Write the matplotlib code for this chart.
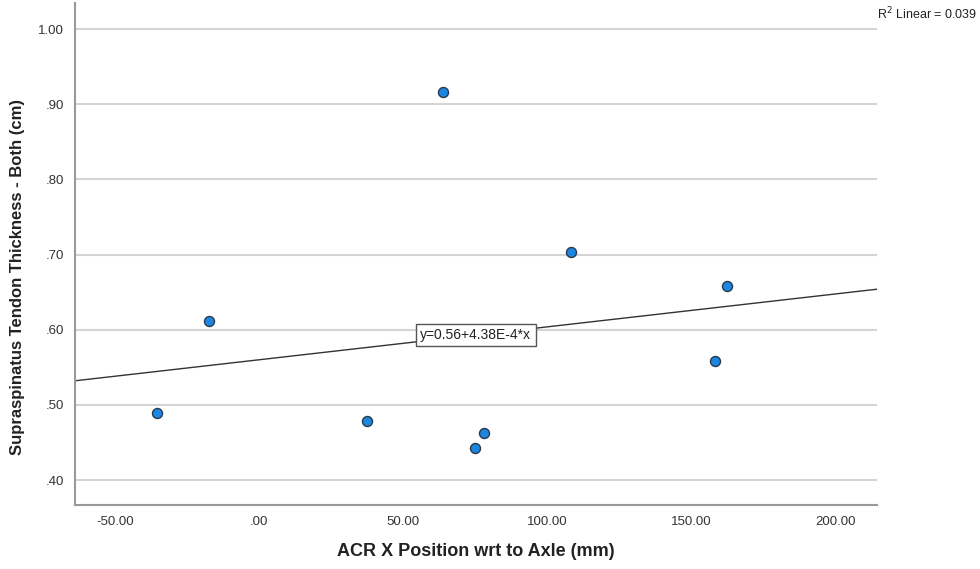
import matplotlib.pyplot as plt
from matplotlib.ticker import FuncFormatter

plt.rcParams['font.family'] = ['Liberation Sans', 'DejaVu Sans']

# Data
acr_x = [-35.6, -17.5, 37.4, 74.8, 78.0, 63.8, 108.0, 162.2, 158.0]
thickness = [0.489, 0.611, 0.479, 0.443, 0.463, 0.916, 0.703, 0.658, 0.559]
intercept = 0.56
slope = 4.38e-4
r2 = 0.039

x_ticks = [-50, 0, 50, 100, 150, 200]
y_ticks = [0.4, 0.5, 0.6, 0.7, 0.8, 0.9, 1.0]
x_lim = (-63.9, 214.2)
y_lim = (0.3668, 1.0346)


def spss_fmt(v, _):
    s = f"{v:.2f}"
    if s.startswith("0."):
        s = s[1:]
    elif s.startswith("-0."):
        s = "-" + s[2:]
    return s


fig = plt.figure(figsize=(9.8, 5.69), dpi=100)
ax = fig.add_axes([0.0765, 0.1125, 0.8181, 0.8822])

ax.set_xlim(*x_lim)
ax.set_ylim(*y_lim)
ax.set_xticks(x_ticks)
ax.set_yticks(y_ticks)
ax.xaxis.set_major_formatter(FuncFormatter(spss_fmt))
ax.yaxis.set_major_formatter(FuncFormatter(spss_fmt))
ax.tick_params(length=0, labelsize=9.5, labelcolor='#333333')
ax.tick_params(axis='x', pad=8)
ax.tick_params(axis='y', pad=8)

ax.grid(axis='y', color='#d4d4d4', linewidth=1.5)
ax.set_axisbelow(True)
for side in ['top', 'right']:
    ax.spines[side].set_visible(False)
for side in ['left', 'bottom']:
    ax.spines[side].set_color('#999999')
    ax.spines[side].set_linewidth(1.5)

# Fit line
line_x = list(x_lim)
line_y = [intercept + slope * v for v in line_x]
ax.plot(line_x, line_y, color='#333333', linewidth=1, zorder=2)

ax.scatter(acr_x, thickness, s=52, color='#1c86e0', edgecolors='#2a3a4a',
           linewidths=1, zorder=3)

mid_x = (x_lim[0] + x_lim[1]) / 2
ax.text(mid_x, intercept + slope * mid_x, "y=0.56+4.38E-4*x", ha='center',
        va='center', fontsize=10, color='#222222', zorder=4,
        bbox=dict(boxstyle='square,pad=0.3', facecolor='white',
                  edgecolor='#555555', linewidth=1))

fig.text(0.8946, 0.975, f"R$^2$ Linear = {r2}", fontsize=9, color='#222222',
         ha='left', va='center')

ax.set_xlabel("ACR X Position wrt to Axle (mm)", fontsize=13,
              fontweight='bold', color='#222222', labelpad=11)
ax.set_ylabel("Supraspinatus Tendon Thickness - Both (cm)", fontsize=12,
              fontweight='bold', color='#222222')
ax.yaxis.set_label_coords(-0.062, 0.455)

plt.savefig("out.png", dpi=100)
